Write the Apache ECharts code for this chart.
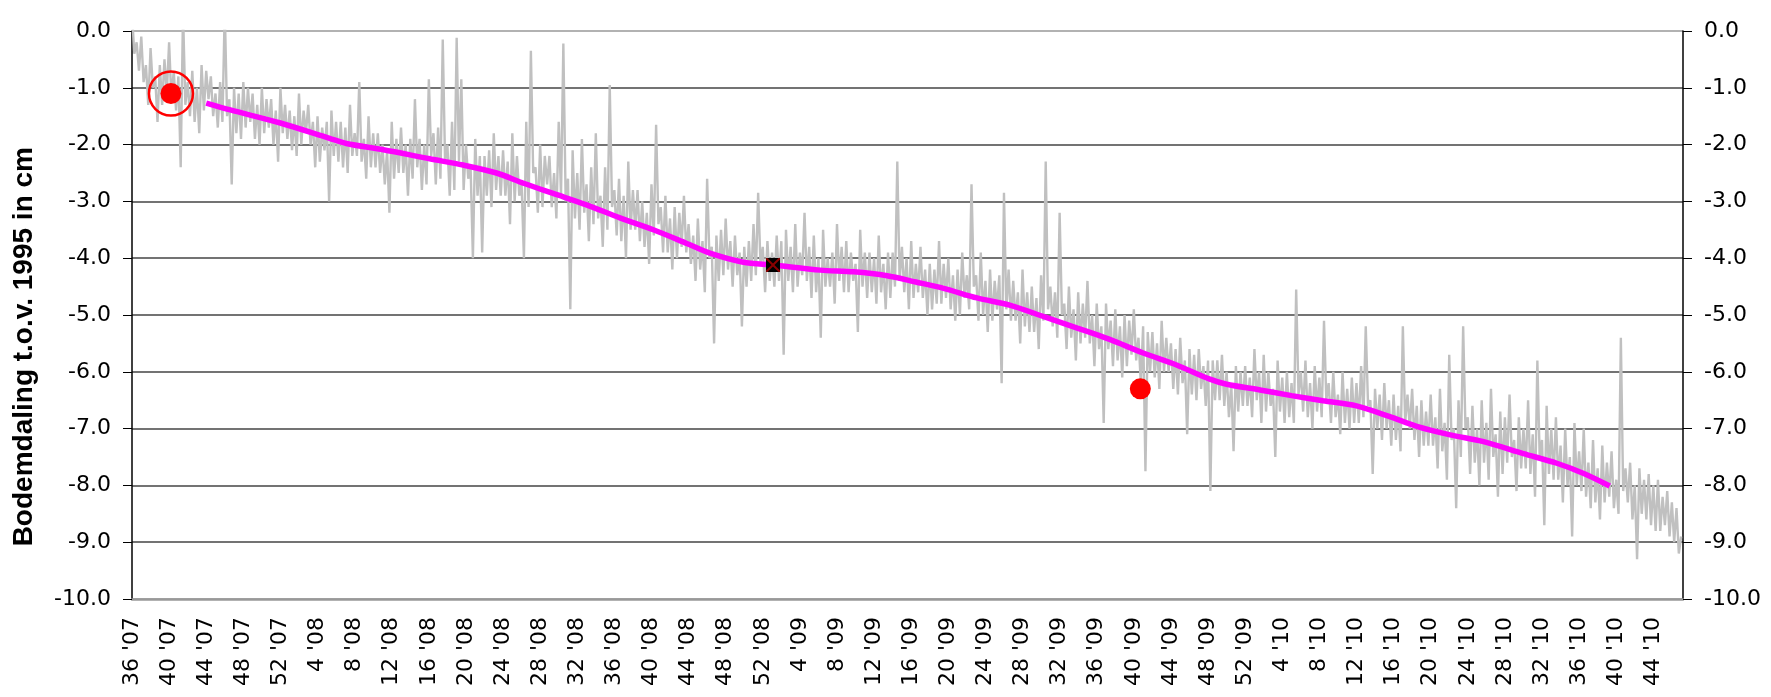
<!DOCTYPE html>
<html>
<head>
<meta charset="utf-8">
<title>Bodemdaling</title>
<script src="https://cdn.jsdelivr.net/npm/echarts@6/dist/echarts.min.js"></script>
<style>
    body { margin: 0; background: #fff; }
    #chart { width: 1771px; height: 697px; }
</style>
</head>
<body>
<div id="chart"></div>
<script>
// x = weken vanaf week 36 '07
var tickLabels = ["36 '07", "40 '07", "44 '07", "48 '07", "52 '07",
    "4 '08", "8 '08", "12 '08", "16 '08", "20 '08", "24 '08", "28 '08", "32 '08", "36 '08", "40 '08", "44 '08", "48 '08", "52 '08",
    "4 '09", "8 '09", "12 '09", "16 '09", "20 '09", "24 '09", "28 '09", "32 '09", "36 '09", "40 '09", "44 '09", "48 '09", "52 '09",
    "4 '10", "8 '10", "12 '10", "16 '10", "20 '10", "24 '10", "28 '10", "32 '10", "36 '10", "40 '10", "44 '10"];

// grijze meetreeks, om de kwart week (elke regel = 5 weken)
var grayStep = 0.25;
var grayValues = [
    0.3, -0.4, -0.2, -0.7, -0.1, -0.9, -0.6, -1.3, -0.3, -1.0, -0.8, -1.6, -0.6, -1.3, -0.5, -1.1, -0.2, -1.2, -0.7, -1.4,
    -0.8, -2.4, 0.35, -1.3, -0.9, -1.5, -0.7, -1.6, -1.0, -1.8, -0.6, -1.4, -0.7, -1.2, -0.8, -1.5, -1.1, -1.7, -0.9, -1.6,
    0.4, -1.5, -1.2, -2.7, -1.0, -1.8, -1.1, -1.9, -0.9, -1.7, -1.0, -1.6, -1.1, -1.9, -1.3, -2.0, -1.0, -1.8, -1.2, -1.7,
    -1.2, -2.0, -1.4, -2.3, -1.0, -1.8, -1.3, -1.9, -1.4, -2.1, -1.5, -2.2, -1.1, -2.0, -1.4, -1.8, -1.3, -2.0, -1.6, -2.4,
    -1.5, -2.3, -1.7, -2.1, -1.6, -3.0, -1.4, -2.2, -1.6, -2.3, -1.6, -2.4, -1.7, -2.5, -1.3, -2.2, -1.8, -2.2, -0.9, -2.3,
    -1.9, -2.6, -1.5, -2.4, -1.8, -2.4, -1.8, -2.5, -2.0, -2.7, -2.1, -3.2, -1.6, -2.6, -1.9, -2.5, -1.7, -2.5, -2.0, -2.9,
    -1.9, -2.6, -1.2, -2.4, -1.9, -2.8, -2.0, -2.7, -0.85, -2.2, -1.8, -2.7, -1.7, -2.6, -0.15, -2.3, -2.0, -2.9, -1.6, -2.8,
    -0.12, -2.3, -0.85, -2.8, -2.0, -2.6, -2.4, -4.0, -1.9, -2.9, -2.2, -3.9, -2.2, -2.9, -2.1, -3.1, -1.8, -2.8, -2.2, -2.9,
    -2.1, -2.9, -2.3, -3.4, -1.8, -3.0, -2.2, -2.9, -2.7, -4.0, -1.6, -3.1, -0.35, -2.5, -2.4, -3.2, -2.0, -3.1, -2.2, -2.7,
    -2.2, -3.1, -2.5, -3.3, -1.6, -2.9, -0.22, -3.0, -2.6, -4.9, -2.1, -3.3, -2.5, -3.5, -1.9, -3.2, -2.7, -3.7, -2.4, -3.4,
    -1.8, -3.3, -2.9, -3.8, -2.4, -3.5, -0.95, -3.1, -2.8, -3.6, -2.6, -3.7, -2.9, -4.0, -2.3, -3.5, -2.8, -3.5, -2.8, -3.7,
    -3.0, -3.8, -3.2, -4.1, -2.7, -3.6, -1.65, -3.4, -3.1, -3.9, -2.9, -3.9, -3.3, -4.2, -3.1, -4.0, -3.2, -3.8, -2.9, -3.9,
    -3.4, -4.1, -3.6, -4.4, -3.3, -4.2, -3.7, -4.6, -2.6, -4.0, -3.8, -5.5, -3.6, -4.4, -3.5, -4.3, -3.3, -4.2, -3.7, -4.5,
    -3.6, -4.3, -3.9, -5.2, -3.8, -4.5, -3.7, -4.4, -3.4, -4.3, -2.85, -4.1, -3.8, -4.6, -3.7, -4.4, -3.9, -4.5, -3.6, -4.4,
    -3.7, -5.7, -3.5, -4.4, -3.8, -4.6, -3.4, -4.5, -3.9, -4.3, -3.2, -4.4, -3.8, -4.7, -3.6, -4.6, -4.0, -5.4, -3.5, -4.5,
    -4.0, -4.5, -3.9, -4.8, -3.4, -4.4, -3.8, -4.6, -3.7, -4.6, -3.9, -4.4, -4.1, -5.3, -3.5, -4.5, -3.9, -4.7, -3.9, -4.6,
    -4.0, -4.8, -3.6, -4.6, -4.1, -4.9, -3.9, -4.7, -3.9, -4.5, -2.3, -4.4, -3.8, -4.6, -4.0, -4.9, -3.7, -4.7, -4.1, -4.6,
    -3.8, -4.7, -4.2, -5.0, -4.1, -4.9, -4.2, -4.8, -3.7, -4.8, -4.1, -4.7, -4.0, -4.9, -4.3, -5.1, -4.2, -5.0, -3.9, -4.7,
    -4.3, -4.9, -2.7, -4.5, -4.3, -5.1, -3.9, -5.0, -4.4, -5.3, -4.2, -5.1, -4.4, -4.9, -4.3, -6.2, -2.85, -4.9, -4.2, -5.1,
    -4.4, -5.1, -4.6, -5.5, -4.2, -5.2, -4.6, -5.3, -4.5, -5.3, -4.7, -5.6, -4.3, -5.1, -2.3, -4.9, -4.5, -5.2, -4.6, -5.4,
    -3.2, -5.0, -4.8, -5.6, -4.5, -5.4, -4.9, -5.8, -4.6, -5.5, -4.8, -5.4, -4.4, -5.5, -5.0, -5.9, -4.8, -5.6, -5.2, -6.9,
    -4.8, -5.6, -5.1, -5.9, -4.9, -5.8, -5.2, -6.1, -5.0, -5.9, -5.1, -5.7, -4.9, -5.8, -5.4, -6.2, -5.2, -7.75, -5.3, -6.0,
    -5.3, -6.1, -5.5, -6.3, -5.1, -6.0, -5.4, -6.0, -5.5, -6.3, -5.6, -6.4, -5.4, -6.2, -5.8, -7.1, -5.6, -6.4, -5.7, -6.5,
    -5.6, -6.3, -5.9, -6.6, -5.8, -8.1, -5.8, -6.5, -5.8, -6.5, -5.7, -6.6, -6.0, -6.8, -6.2, -7.4, -5.9, -6.7, -6.0, -6.6,
    -5.9, -6.6, -6.1, -6.8, -5.6, -6.5, -6.0, -6.9, -5.7, -6.7, -6.0, -6.6, -6.3, -7.5, -5.8, -6.7, -6.1, -6.9, -6.0, -6.8,
    -6.2, -6.9, -4.55, -6.4, -6.0, -6.7, -5.8, -6.8, -6.2, -7.0, -5.9, -6.7, -6.1, -6.8, -5.1, -6.5, -6.2, -6.9, -6.0, -6.8,
    -6.4, -7.1, -6.0, -6.9, -6.3, -7.0, -6.1, -6.9, -6.2, -6.9, -5.9, -6.8, -5.2, -6.6, -6.5, -7.8, -6.3, -7.0, -6.4, -7.2,
    -6.2, -7.0, -6.5, -7.3, -6.4, -7.2, -6.6, -7.4, -5.2, -6.9, -6.4, -7.0, -6.3, -7.2, -6.6, -7.5, -6.5, -7.3, -6.7, -7.3,
    -6.4, -7.3, -6.8, -7.7, -6.3, -7.4, -6.9, -7.9, -5.7, -7.2, -7.0, -8.4, -6.5, -7.5, -5.2, -7.0, -6.8, -7.8, -6.6, -7.6,
    -7.0, -8.0, -6.5, -7.6, -6.9, -7.9, -6.3, -7.5, -7.1, -8.2, -6.7, -7.8, -6.8, -7.6, -6.4, -7.5, -7.2, -8.1, -6.8, -7.7,
    -7.0, -7.7, -6.5, -7.8, -7.1, -8.2, -5.8, -7.5, -7.2, -8.7, -6.6, -7.8, -7.0, -7.9, -6.8, -7.9, -7.3, -8.3, -7.0, -8.0,
    -7.5, -8.9, -6.9, -8.0, -7.4, -8.1, -7.0, -8.2, -7.6, -8.4, -7.2, -8.3, -7.7, -8.6, -7.3, -8.3, -7.6, -8.2, -7.4, -8.4,
    -7.9, -8.5, -5.4, -8.1, -7.7, -8.3, -7.6, -8.6, -8.0, -9.3, -7.7, -8.5, -7.9, -8.6, -7.8, -8.7, -8.0, -8.8, -7.9, -8.8,
    -8.2, -8.7, -8.1, -8.9, -8.3, -9.0, -8.4, -9.2, -8.9
];

// trendlijn (magenta)
var trendWeeks = [8, 10.6, 16, 21.3, 23.1, 27.1, 32.1, 35.7, 39.3, 42.2, 45.4, 49, 52.6, 56.2, 59.8, 62.3,
    65.9, 69.1, 74.2, 77.8, 81.4, 84.5, 87.5, 91.1, 94.7, 98.3, 101.9, 105.4, 109, 112.6, 116.2, 118,
    121.6, 125, 128.4, 132, 135.6, 138.5, 142.1, 145.7, 150, 153.6, 156.5, 159.3];
var trendValues = [-1.27, -1.39, -1.62, -1.89, -1.98, -2.09, -2.25, -2.36, -2.50, -2.68, -2.86, -3.06, -3.29, -3.50, -3.74, -3.91,
    -4.07, -4.12, -4.21, -4.24, -4.31, -4.42, -4.53, -4.70, -4.83, -5.03, -5.23, -5.43, -5.67, -5.88, -6.13, -6.22,
    -6.32, -6.42, -6.51, -6.60, -6.79, -6.96, -7.11, -7.23, -7.44, -7.61, -7.79, -8.01];

// losse punten
var redWeeks = [4.2, 108.7];
var redValues = [-1.1, -6.3];
var ringPoint = [4.2, -1.1];
var blackPoint = [69.1, -4.12];

var grayData = grayValues.map(function (v, i) { return [i * grayStep, v]; });
var trendData = trendWeeks.map(function (w, i) { return [w, trendValues[i]]; });
var redData = redWeeks.map(function (w, i) { return [w, redValues[i]]; });

var splitColors = ['#999'];
for (var i = 0; i < 9; i++) splitColors.push('#444');
splitColors.push('#999');

var labelFont = 'DejaVu Sans';

var chart = echarts.init(document.getElementById('chart'));

var yBase = {
    type: 'value',
    min: -10,
    max: 0,
    interval: 1,
    axisLine: { show: true, onZero: false, lineStyle: { color: '#000', width: 1.5 } },
    axisTick: { show: true, length: 9, lineStyle: { color: '#000', width: 1 } },
    axisLabel: {
        color: '#000',
        fontFamily: labelFont,
        fontSize: 22,
        margin: 21,
        formatter: function (v) { return v.toFixed(1); }
    }
};

var option = {
    animation: false,
    backgroundColor: '#fff',
    grid: { left: 132, right: 88, top: 31, bottom: 98 },
    xAxis: {
        type: 'value',
        min: 0,
        max: 167.2,
        interval: 4,
        axisLine: { show: true, onZero: false, lineStyle: { color: '#999', width: 2.5 } },
        axisTick: { show: false },
        splitLine: { show: false },
        axisLabel: {
            rotate: 90,
            color: '#000',
            fontFamily: labelFont,
            fontSize: 22,
            margin: 18,
            formatter: function (v) {
                var k = v / 4;
                return (Number.isInteger(k) && tickLabels[k]) ? tickLabels[k] : '';
            }
        }
    },
    yAxis: [
        Object.assign({}, yBase, {
            position: 'left',
            splitLine: { show: true, lineStyle: { color: splitColors, width: 1.5 } }
        }),
        Object.assign({}, yBase, {
            position: 'right',
            splitLine: { show: false }
        })
    ],
    graphic: [{
        type: 'text',
        left: 10,
        top: 350 - 203,
        style: {
            text: 'Bodemdaling t.o.v. 1995 in cm',
            font: 'bold 28px "Liberation Sans", Arial, sans-serif',
            fill: '#000'
        },
        rotation: Math.PI / 2,
        originX: 0,
        originY: 0
    }],
    series: [
        {
            name: 'meting',
            type: 'line',
            data: grayData,
            symbol: 'none',
            lineStyle: { color: '#c0c0c0', width: 2.4 },
            z: 2
        },
        {
            name: 'trend',
            type: 'line',
            data: trendData,
            symbol: 'none',
            smooth: 0.3,
            lineStyle: { color: '#ff00ff', width: 5.5 },
            z: 3
        },
        {
            name: 'ring',
            type: 'scatter',
            data: [ringPoint],
            symbol: 'circle',
            symbolSize: 44,
            itemStyle: { color: 'rgba(0,0,0,0)', borderColor: '#ff0000', borderWidth: 2.5, opacity: 1 },
            z: 4
        },
        {
            name: 'rood',
            type: 'scatter',
            data: redData,
            symbol: 'circle',
            symbolSize: 21,
            itemStyle: { color: '#ff0000', opacity: 1 },
            z: 5
        },
        {
            name: 'zwart',
            type: 'scatter',
            data: [blackPoint],
            symbol: 'rect',
            symbolSize: 14,
            itemStyle: { color: '#000', opacity: 1 },
            z: 5
        },
        {
            name: 'kruis',
            type: 'scatter',
            data: [blackPoint],
            symbol: 'path://M0,0 L2,0 L10,8 L18,0 L20,0 L20,2 L12,10 L20,18 L20,20 L18,20 L10,12 L2,20 L0,20 L0,18 L8,10 L0,2 Z',
            symbolSize: 14,
            itemStyle: { color: '#8b0000', opacity: 1 },
            z: 6
        }
    ]
};
chart.setOption(option);
</script>
</body>
</html>
